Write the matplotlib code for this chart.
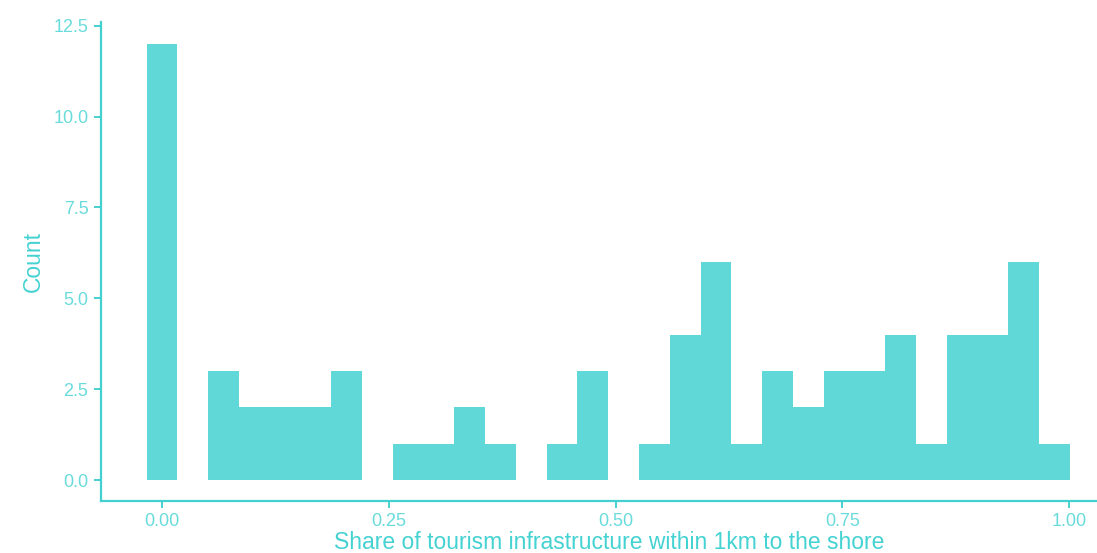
import numpy as np
import matplotlib
matplotlib.use("Agg")
import matplotlib.pyplot as plt

# histogram counts, 30 bins (ggplot default binning, data range 0 .. ~0.984)
counts = [12, 0, 3, 2, 2, 2, 3, 0, 1, 1, 2, 1, 0, 1, 3,
          0, 1, 4, 6, 1, 3, 2, 3, 3, 4, 1, 4, 4, 6, 1]
data_max = 0.984
x_ticks = [0.0, 0.25, 0.5, 0.75, 1.0]
x_labels = ["0.00", "0.25", "0.50", "0.75", "1.00"]
y_ticks = [0.0, 2.5, 5.0, 7.5, 10.0, 12.5]
y_labels = ["0.0", "2.5", "5.0", "7.5", "10.0", "12.5"]

bar_col = "#60D8D8"
line_col = "#45D0D0"
tick_text_col = "#6ADBDB"
title_col = "#45D2D2"

plt.rcParams["font.family"] = ["Liberation Sans", "DejaVu Sans"]

fig = plt.figure(figsize=(10.97, 5.53), dpi=100)
# the panel runs a little past the right edge of the picture, as in the source
ax = fig.add_axes([101 / 1097, 52 / 553, 1016 / 1097, 479 / 553])

nbins = len(counts)
width = data_max / (nbins - 1)
centers = np.arange(nbins) * width
ax.bar(centers, counts, width=width, color=bar_col, linewidth=0,
       align="center")

ax.set_xlim(-0.0673, 1.0529)
ax.set_ylim(-0.575, 12.6)
ax.set_xticks(x_ticks)
ax.set_xticklabels(x_labels)
ax.set_yticks(y_ticks)
ax.set_yticklabels(y_labels)

for s in ["top", "right"]:
    ax.spines[s].set_visible(False)
for s in ["left", "bottom"]:
    ax.spines[s].set_color(line_col)
    ax.spines[s].set_linewidth(1.6)

ax.tick_params(colors=line_col, labelcolor=tick_text_col, labelsize=13,
               length=5, width=1.4, pad=4)

ax.set_xlabel("Share of tourism infrastructure within 1km to the shore",
              color=title_col, fontsize=16.5, labelpad=0.5)
ax.set_ylabel("Count", color=title_col, fontsize=16.5, labelpad=6)

fig.savefig("out.png", dpi=100, facecolor="white")
